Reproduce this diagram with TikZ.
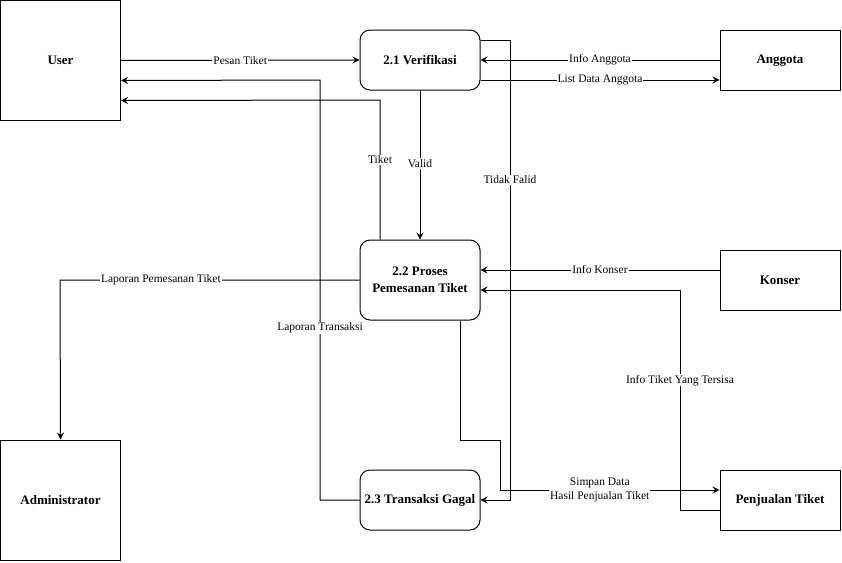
\documentclass[tikz,border=0pt]{standalone}
\usepackage{fontspec}
\setmainfont{Liberation Serif}
\usetikzlibrary{arrows.meta}
\begin{document}
\begin{tikzpicture}[x=1pt,y=-1pt,
  base/.style={draw,line width=1pt,inner sep=0pt,align=center,
    font=\rmfamily\fontsize{13}{17}\selectfont\bfseries},
  ent/.style={base,minimum width=120pt,minimum height=60pt},
  bigent/.style={base,minimum width=120pt,minimum height=120pt},
  proc/.style={base,rounded corners=10pt,minimum width=120pt,minimum height=60pt},
  bigproc/.style={base,rounded corners=10pt,minimum width=120pt,minimum height=80pt},
  arr/.style={line width=1pt,-{Stealth[length=7pt,width=7pt,inset=2.5pt]}},
  lbl/.style={fill=white,inner sep=1pt,align=center,
    font=\rmfamily\fontsize{11.5}{14}\selectfont}]
\useasboundingbox (0,0) rectangle (842,562);
% nodes
\node[bigent] (user) at (60.5,60.5) {User};
\node[bigent] (adm) at (60.5,500) {Administrator};
\node[proc] (ver) at (420,60) {2.1 Verifikasi};
\node[bigproc] (pro) at (420,280) {2.2 Proses\\Pemesanan Tiket};
\node[proc] (gag) at (420,500) {2.3 Transaksi Gagal};
\node[ent] (ang) at (780,60) {\strut Anggota};
\node[ent] (kon) at (780,280) {Konser};
\node[ent] (pen) at (780,500) {\strut Penjualan Tiket};
% connectors
\draw[arr] (user.east) -- node[lbl]{Pesan Tiket} (ver.west);
\draw[arr] (ang.west) -- node[lbl]{Info Anggota} (ver.east);
\draw[arr] ([yshift=-20pt]ver.east) -- node[lbl]{List Data Anggota} ([yshift=-20pt]ang.west);
\draw[arr] (ver.south) -- node[lbl,pos=0.49]{Valid} (pro.north);
\draw[arr] ([yshift=20pt]ver.east) -- (510,40) -- node[lbl,pos=0.304]{Tidak Falid} (510,500) -- (gag.east);
\draw[arr] ([xshift=-40pt]pro.north) -- node[lbl,pos=0.571]{Tiket} (380,100) -- ([yshift=-40pt]user.east);
\draw[arr] (gag.west) -- (320,500) -- node[lbl,pos=0.41]{Laporan Transaksi} (320,80) -- ([yshift=-20pt]user.east);
\draw[arr] (pro.west) -- node[lbl,pos=0.663]{Laporan Pemesanan Tiket} (60,280) -- (adm.north);
\draw[arr] ([yshift=10pt]kon.west) -- node[lbl]{Info Konser} ([yshift=10pt]pro.east);
\draw[arr] ([yshift=-10pt]pen.west) -- (680,510) -- node[lbl,pos=0.59]{Info Tiket Yang Tersisa} (680,290) -- ([yshift=-10pt]pro.east);
\draw[arr] ([xshift=40pt]pro.south) -- (460,440) -- (500,440) -- (500,490) -- node[lbl,pos=0.4545]{Simpan Data\\Hasil Penjualan Tiket} ([yshift=10pt]pen.west);
\end{tikzpicture}
\end{document}
